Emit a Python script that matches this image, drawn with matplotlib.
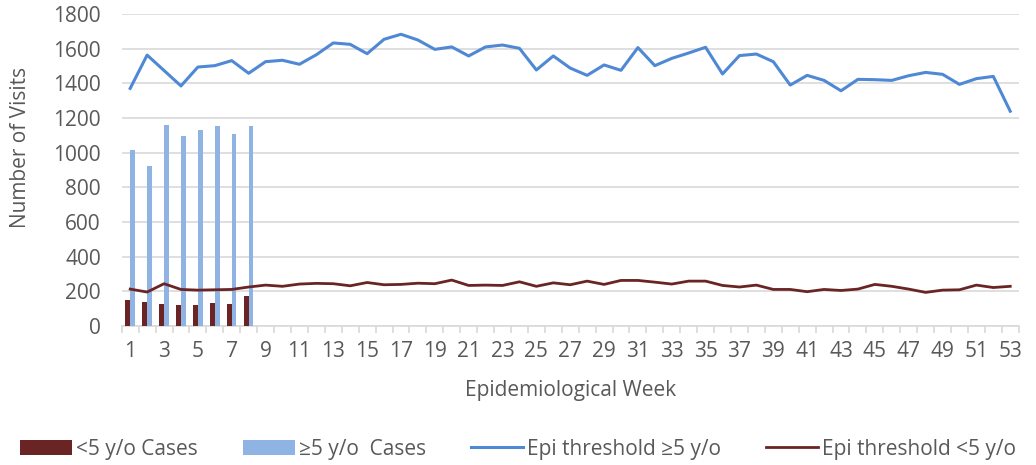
import numpy as np
import matplotlib.pyplot as plt
from matplotlib.patches import Patch
from matplotlib.lines import Line2D

weeks = list(range(1, 54))

# weekly visits reported so far (weeks 1-8)
case_weeks = [1, 2, 3, 4, 5, 6, 7, 8]
cases_under5 = [150, 139, 127, 121, 121, 133, 126, 173]
cases_5plus = [1014, 923, 1159, 1099, 1132, 1155, 1109, 1155]

# epidemic thresholds, weeks 1-53
threshold_5plus = [
    1371, 1563, 1474, 1385, 1494, 1502, 1531, 1458, 1525, 1533,
    1510, 1565, 1633, 1625, 1571, 1654, 1683, 1650, 1596, 1610,
    1558, 1610, 1621, 1602, 1477, 1558, 1488, 1446, 1506, 1475,
    1606, 1502, 1544, 1575, 1608, 1454, 1560, 1569, 1525, 1390,
    1446, 1417, 1357, 1423, 1421, 1417, 1444, 1463, 1452, 1394,
    1427, 1440, 1239,
]
threshold_under5 = [
    213, 196, 244, 211, 207, 209, 211, 225, 236, 229,
    242, 246, 244, 232, 251, 238, 240, 247, 244, 265,
    234, 236, 234, 255, 229, 249, 238, 259, 240, 263,
    263, 253, 242, 259, 259, 234, 225, 236, 211, 211,
    198, 211, 205, 213, 240, 229, 213, 194, 207, 209,
    236, 222, 229,
]

DARK_RED = "#6b2424"
LIGHT_BLUE = "#8fb4e3"
LINE_BLUE = "#4f88d4"
GRID = "#d9d9d9"
TEXT = "#595959"
FS = 15

plt.rcParams['font.family'] = ['Open Sans', 'DejaVu Sans']

fig = plt.figure(figsize=(10.36, 4.65), dpi=100)
ax = fig.add_axes([0.1175, 0.2989, 0.8658, 0.6710])

bar_w = 0.28
cw = np.array(case_weeks)
ax.bar(cw - bar_w / 2, cases_under5, width=bar_w, color=DARK_RED, zorder=3)
ax.bar(cw + bar_w / 2, cases_5plus, width=bar_w, color=LIGHT_BLUE, zorder=3)
ax.plot(weeks, threshold_5plus, color=LINE_BLUE, linewidth=2.2, zorder=4)
ax.plot(weeks, threshold_under5, color=DARK_RED, linewidth=2.0, zorder=4)

ax.set_xlim(0.5, 53.5)
ax.set_ylim(0, 1800)
ax.set_yticks(range(0, 1801, 200))
ax.yaxis.grid(True, color=GRID, linewidth=1.2, zorder=0)
ax.set_axisbelow(True)

ax.set_xticks(weeks[::2])
ax.set_xticklabels([str(w) for w in weeks[::2]])
ax.set_xticks(np.arange(0.5, 54, 1), minor=True)
ax.tick_params(axis='x', which='major', length=0, pad=11, labelsize=FS, labelcolor=TEXT)
ax.tick_params(axis='x', which='minor', length=5, width=1.2, color=GRID)
ax.tick_params(axis='y', length=0, pad=15, labelsize=FS, labelcolor=TEXT)

for side in ['top', 'right', 'left']:
    ax.spines[side].set_visible(False)
ax.spines['bottom'].set_color(GRID)
ax.spines['bottom'].set_linewidth(1.2)

ax.set_xlabel("Epidemiological Week", fontsize=FS, color=TEXT, labelpad=13)
fig.text(0.0195, 1 - 147 / 465, "Number of Visits", rotation=90,
         fontsize=FS, color=TEXT, ha='center', va='center')

handles = [
    Patch(facecolor=DARK_RED),
    Patch(facecolor=LIGHT_BLUE),
    Line2D([], [], color=LINE_BLUE, linewidth=2.2),
    Line2D([], [], color=DARK_RED, linewidth=2.0),
]
labels = ["<5 y/o Cases", "\u22655 y/o  Cases", "Epi threshold \u22655 y/o", "Epi threshold <5 y/o"]
fig.legend(handles, labels, loc='center', bbox_to_anchor=(0.5, 1 - 449 / 465), ncol=4,
           frameon=False, fontsize=FS, labelcolor=TEXT, handlelength=2.5,
           handleheight=0.75, handletextpad=0.2, columnspacing=2.15)

fig.savefig("out.png", dpi=100)
